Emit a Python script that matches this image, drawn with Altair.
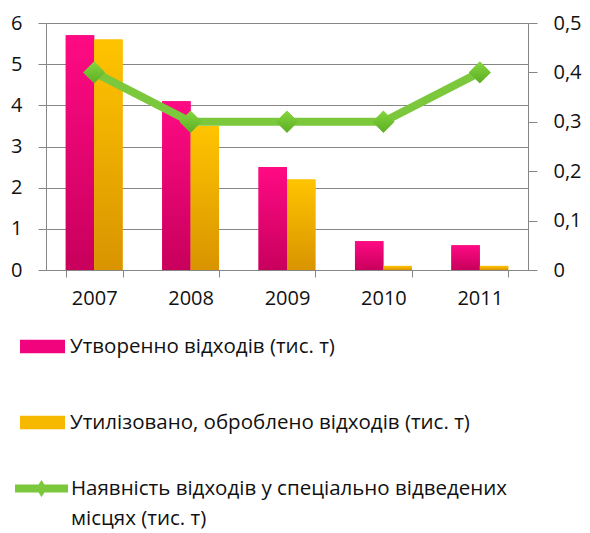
import altair as alt
import pandas as pd

years = ["2007", "2008", "2009", "2010", "2011"]
created = [5.7, 4.1, 2.5, 0.7, 0.6]
utilized = [5.6, 3.5, 2.2, 0.1, 0.1]
stored = [0.4, 0.3, 0.3, 0.3, 0.4]
series_names = [
    "Утворенно відходів (тис. т)",
    "Утилізовано, оброблено відходів (тис. т)",
    "Наявність відходів у спеціально  відведених місцях (тис. т)",
]
left_ticks = [0, 1, 2, 3, 4, 5, 6]
right_ticks = [0, 0.1, 0.2, 0.3, 0.4, 0.5]

bars = pd.DataFrame({
    "year": years * 2,
    "value": created + utilized,
    "series": [series_names[0]] * 5 + [series_names[1]] * 5,
})
line = pd.DataFrame({"year": years, "value": stored, "series": [series_names[2]] * 5})

FONT = "Open Sans"
GRAY = "#868686"
TXT = "#111111"
GREEN = "#7CC83C"
PINK = "#F2037E"
ORANGE = "#F7B800"
AX_FS = 20
LG_FS = 20.5

grad_pink = alt.Gradient(gradient="linear", x1=0, y1=0, x2=0, y2=1,
                         stops=[alt.GradientStop(color="#FF0A84", offset=0),
                                alt.GradientStop(color="#C8005C", offset=1)])
grad_orange = alt.Gradient(gradient="linear", x1=0, y1=0, x2=0, y2=1,
                           stops=[alt.GradientStop(color="#FFC400", offset=0),
                                  alt.GradientStop(color="#D99400", offset=1)])
grad_green = alt.Gradient(gradient="linear", x1=0, y1=0, x2=0, y2=1,
                          stops=[alt.GradientStop(color="#86D63E", offset=0),
                                 alt.GradientStop(color="#5CAE24", offset=1)])

x_enc = alt.X(
    "year:N",
    sort=years,
    scale=alt.Scale(paddingInner=0.41, paddingOuter=0.205),
    axis=alt.Axis(title=None, labelAngle=0, tickBand="extent", domainColor=GRAY,
                  tickColor=GRAY, tickSize=7, labelPadding=11, labelFontSize=AX_FS,
                  labelColor=TXT, labelFont=FONT, grid=False),
)
xoff = alt.XOffset("series:N", sort=series_names[:2],
                   scale=alt.Scale(paddingInner=0, paddingOuter=0))
y_left = alt.Y(
    "value:Q",
    scale=alt.Scale(domain=[0, 6], nice=False, zero=True),
    axis=alt.Axis(title=None, values=left_ticks, format="d", grid=True, gridColor=GRAY,
                  gridWidth=1, domainColor=GRAY, tickColor=GRAY, tickSize=8,
                  labelPadding=16, labelFontSize=AX_FS, labelColor=TXT, labelFont=FONT),
)

bar_solid = alt.Chart(bars).mark_bar().encode(
    x=x_enc, xOffset=xoff, y=y_left,
    color=alt.Color(
        "series:N",
        scale=alt.Scale(domain=series_names[:2], range=[PINK, ORANGE]),
        legend=alt.Legend(
            title=None, orient="none", direction="vertical", legendX=-26, legendY=301,
            symbolType="M-1,-0.3H1V0.3H-1Z", symbolSize=2025, symbolStrokeWidth=0,
            labelFont=FONT, labelFontSize=LG_FS, labelColor=TXT, labelOffset=5,
            rowPadding=43, padding=0, labelLimit=600,
        ),
    ),
)
bar_grad = alt.Chart(bars).mark_bar().encode(
    x=x_enc, xOffset=xoff, y=alt.Y("value:Q"),
    fill=alt.condition(alt.datum.series == series_names[0],
                       alt.value(grad_pink), alt.value(grad_orange)),
)

y_right = alt.Y(
    "value:Q",
    scale=alt.Scale(domain=[0, 0.5], nice=False, zero=True),
    axis=alt.Axis(title=None, orient="right", values=right_ticks, grid=False,
                  domainColor=GRAY, tickColor=GRAY, tickSize=9, labelPadding=16,
                  labelFontSize=AX_FS, labelColor=TXT, labelFont=FONT,
                  labelExpr="datum.value == 0 ? '0' : replace(format(datum.value, '.1f'), '.', ',')"),
)
line_mark = alt.Chart(line).mark_line(color=GREEN, strokeWidth=8).encode(
    x=x_enc, y=y_right,
)
pts = alt.Chart(line).mark_point(shape="diamond", filled=True, size=480, opacity=1).encode(
    x=x_enc, y=alt.Y("value:Q"),
    fill=alt.Fill(
        "series:N",
        scale=alt.Scale(domain=[series_names[2]], range=[GREEN]),
        legend=alt.Legend(
            title=None, orient="none", direction="vertical", legendX=-31, legendY=439,
            symbolType="M-1,-0.15H1V0.15H-1Z M0,-0.32L0.21,0L0,0.32L-0.21,0Z",
            symbolSize=2809, symbolStrokeWidth=0,
            labelFont=FONT, labelFontSize=LG_FS, labelColor=TXT, labelOffset=3,
            padding=0, labelLimit=600,
            labelExpr="split(replace(datum.label, ' місцях', '|місцях'), '|')",
        ),
    ),
)
pts_grad = alt.Chart(line).mark_point(shape="diamond", filled=True, size=480, opacity=1).encode(
    x=x_enc, y=alt.Y("value:Q"), fill=alt.value(grad_green),
)

chart = alt.layer(
    alt.layer(bar_solid, bar_grad),
    alt.layer(line_mark, pts, pts_grad),
).resolve_scale(y="independent").properties(
    width=482, height=247,
    autosize=alt.AutoSizeParams(type="none"),
    padding={"left": 46, "top": 23, "right": 62, "bottom": 263},
).configure(style={"guide-label": {"lineHeight": 30}}).configure_view(stroke=None)

chart.save("out.html", embed_options={"renderer": "svg", "actions": False})
